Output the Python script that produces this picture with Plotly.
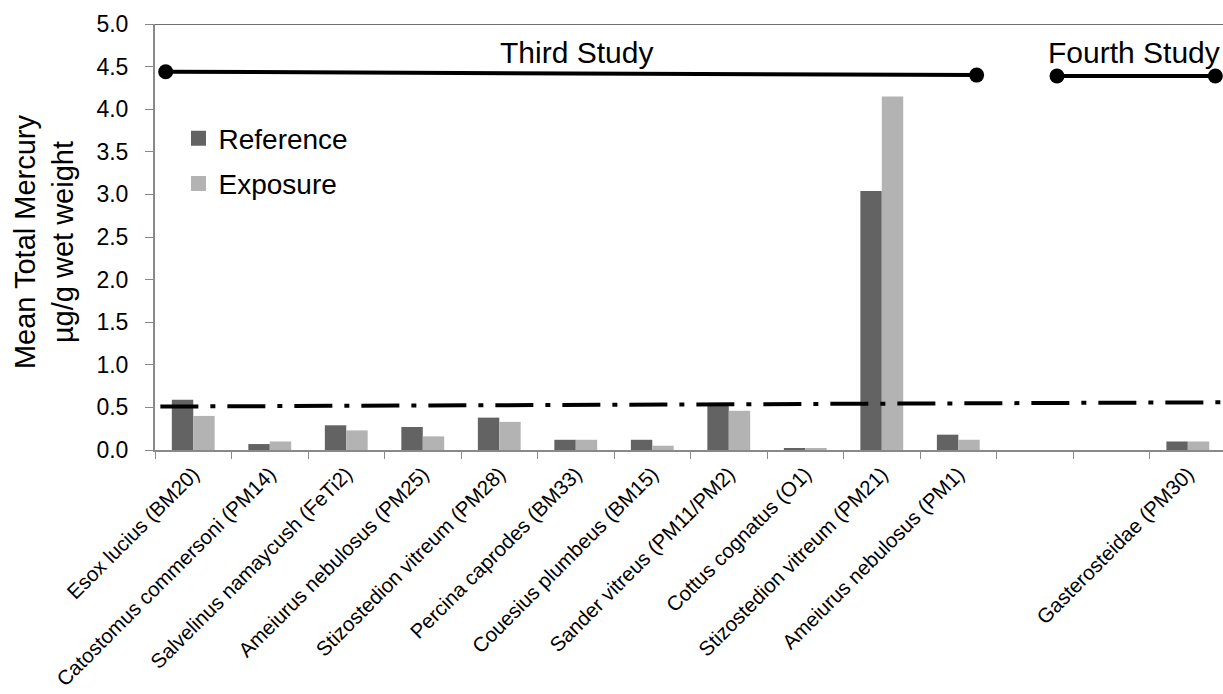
import plotly.graph_objects as go

# Species / site labels (two empty slots before the fourth-study site)
categories = [
    "Esox lucius (BM20)",
    "Catostomus commersoni (PM14)",
    "Salvelinus namaycush (FeTi2)",
    "Ameiurus nebulosus (PM25)",
    "Stizostedion vitreum (PM28)",
    "Percina caprodes (BM33)",
    "Couesius plumbeus (BM15)",
    "Sander vitreus (PM11/PM2)",
    "Cottus cognatus (O1)",
    "Stizostedion vitreum (PM21)",
    "Ameiurus nebulosus (PM1)",
    " ",
    "  ",
    "Gasterosteidae (PM30)",
]

reference = [0.59, 0.07, 0.29, 0.27, 0.38, 0.12, 0.12, 0.55, 0.02, 3.04, 0.18, None, None, 0.10]
exposure = [0.40, 0.10, 0.23, 0.16, 0.33, 0.12, 0.05, 0.46, 0.02, 4.15, 0.12, None, None, 0.10]

# Guideline (dash-dot) end points, in category-index units
guide_x = [-0.43, 13.5]
guide_y = [0.51, 0.56]

# Study spans (category-index units)
third_x = [-0.36, 10.24]
third_y = [4.44, 4.40]
fourth_x = [11.29, 13.36]
fourth_y = [4.39, 4.39]

y_ticks = [0, 0.5, 1.0, 1.5, 2.0, 2.5, 3.0, 3.5, 4.0, 4.5, 5.0]

FONT = "Liberation Sans, Arial, sans-serif"
REF_COLOR = "#636363"
EXP_COLOR = "#b3b3b3"

fig = go.Figure()

fig.add_trace(go.Bar(x=categories, y=reference, name="Reference", showlegend=False,
                     marker=dict(color=REF_COLOR, line=dict(width=0))))
fig.add_trace(go.Bar(x=categories, y=exposure, name="Exposure", showlegend=False,
                     marker=dict(color=EXP_COLOR, line=dict(width=0))))

# legend entries with larger square swatches
for name, color in (("Reference", REF_COLOR), ("Exposure", EXP_COLOR)):
    fig.add_trace(go.Scatter(x=[None], y=[None], xaxis="x2", mode="markers", name=name,
                             legendgroup=name,
                             marker=dict(symbol="square", size=15, color=color)))

fig.add_trace(go.Scatter(x=guide_x, y=guide_y, xaxis="x2", mode="lines",
                         line=dict(color="black", width=4, dash="38px,12px,5px,12px"),
                         showlegend=False, hoverinfo="skip"))

for xs, ys in ((third_x, third_y), (fourth_x, fourth_y)):
    fig.add_trace(go.Scatter(x=xs, y=ys, xaxis="x2", mode="lines+markers",
                             line=dict(color="black", width=4),
                             marker=dict(color="black", size=15),
                             showlegend=False, hoverinfo="skip", cliponaxis=False))

x_range = [-0.5, 13.46]

fig.update_layout(
    width=1223, height=694,
    margin=dict(l=155, r=0, t=24, b=244, autoexpand=False),
    paper_bgcolor="white", plot_bgcolor="white",
    font=dict(family=FONT, color="black"),
    barmode="group", bargap=0.44, bargroupgap=0,
    showlegend=True,
    legend=dict(x=0.022, y=0.79, xanchor="left", yanchor="top",
                font=dict(size=28, family=FONT), bgcolor="rgba(0,0,0,0)",
                tracegroupgap=6, itemwidth=30, itemsizing="trace"),
    xaxis=dict(type="category", categoryorder="array", categoryarray=categories,
               range=x_range, tickson="boundaries", ticks="outside", ticklen=7,
               tickcolor="#898989", showline=True, linecolor="#898989", linewidth=2,
               tickangle=-45, tickfont=dict(size=20.5, family=FONT), ticklabelstandoff=2,
               showgrid=False, zeroline=False, automargin=False),
    xaxis2=dict(overlaying="x", range=x_range, visible=False, showgrid=False,
                zeroline=False),
    yaxis=dict(range=[0, 5.0], tickvals=y_ticks, tickformat=".1f", ticks="outside",
               ticklen=8, tickcolor="#898989", showline=True, linecolor="#898989",
               linewidth=2, tickfont=dict(size=23, family=FONT), ticklabelstandoff=12,
               showgrid=False, zeroline=False, automargin=False),
)

# top border of the plotting area
fig.add_shape(type="line", xref="paper", yref="y", x0=0, x1=1, y0=5.0, y1=5.0,
              line=dict(color="#404040", width=1.5))

fig.add_annotation(text="Mean Total Mercury<br>µg/g wet weight", xref="paper", yref="paper",
                   x=(44 - 155) / 1068, y=0.488, textangle=-90, showarrow=False,
                   font=dict(size=29, family=FONT), xanchor="center", yanchor="middle")

fig.add_annotation(text="Third Study", xref="x2", yref="y", x=5.01, y=4.66,
                   showarrow=False, font=dict(size=30, family=FONT), yanchor="middle")
fig.add_annotation(text="Fourth Study", xref="x2", yref="y", x=12.3, y=4.66,
                   showarrow=False, font=dict(size=30, family=FONT), yanchor="middle")

fig.write_html("out.html")
